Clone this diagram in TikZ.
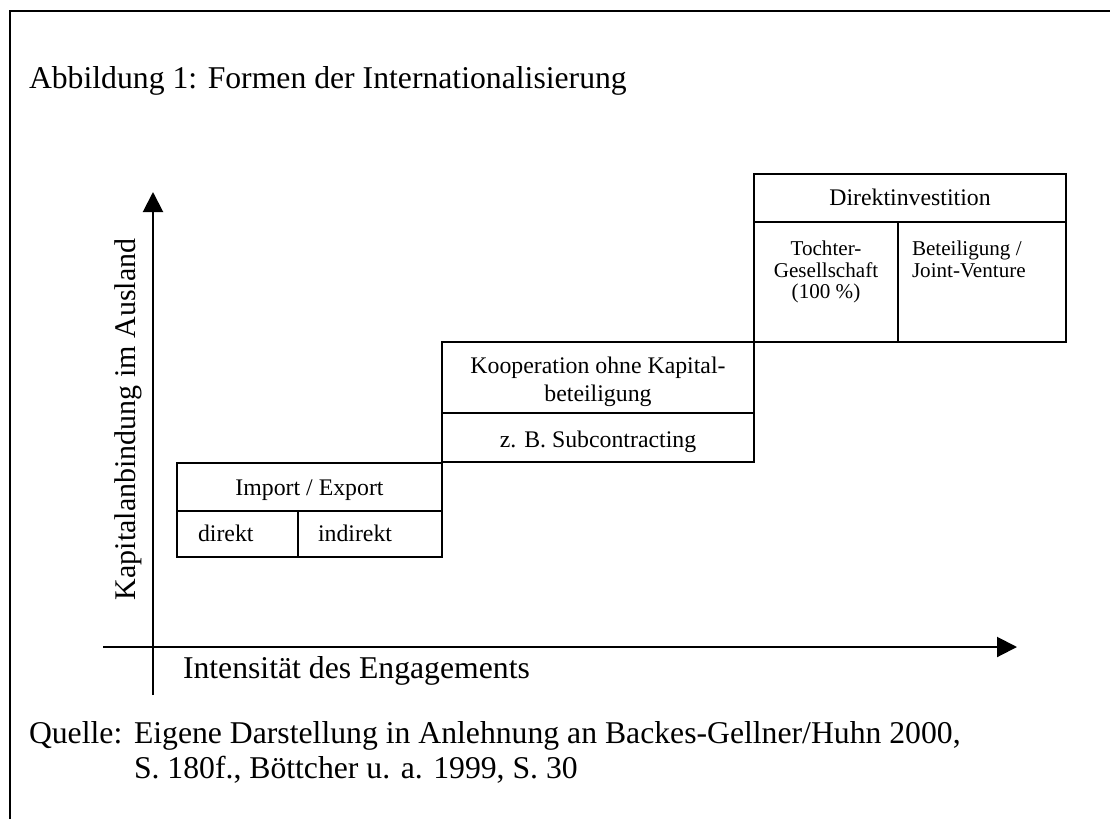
\documentclass[tikz,border=0pt]{standalone}
\usepackage{fontspec}
\setmainfont{Liberation Serif}
\usetikzlibrary{arrows.meta}
\newcommand\fsz[1]{\fontsize{#1}{#1}\selectfont}
\tikzset{
  x=1pt, y=-1pt,
  every node/.style={inner sep=0pt, outer sep=0pt},
  cellbox/.style={draw, line width=2pt, rectangle, anchor=north west},
  bigtxt/.style={font=\fsz{31.7}},
  labtxt/.style={font=\fsz{30}},
  boxtxt/.style={font=\fsz{23.8}},
  celltxt/.style={font=\fsz{21.1}},
  axisline/.style={line width=2pt, -{Triangle[length=20pt,width=20pt]}},
  frameline/.style={line width=2pt}
}
\begin{document}
\begin{tikzpicture}
\useasboundingbox (0,0) rectangle (1110,819);
% frame
\coordinate (fb) at (9.5,819);
\coordinate (fc) at (9.5,10.5);
\coordinate (fr) at (1110,10.5);
\draw[frameline] (fb) -- (fc) -- (fr);

% title
\node[bigtxt, anchor=base west] (title) at (29,88) {Abbildung 1: Formen der Internationalisierung};

% axes
\coordinate (xs) at (103,647);
\coordinate (xe) at (1017,647);
\coordinate (ys) at (153,695);
\coordinate (ye) at (153,192);
\draw[axisline] (xs) -- (xe);
\draw[axisline] (ys) -- (ye);
\node[labtxt, anchor=base west, rotate=90] (ylab) at (135,600) {Kapitalanbindung im Ausland};
\node[bigtxt, anchor=base west] (xlab) at (183,678) {Intensität des Engagements};

% Import / Export
\node[cellbox, minimum width=265, minimum height=48] (imp) at (177,463) {};
\node[cellbox, minimum width=121, minimum height=46] (dirc) at (177,511) {};
\node[cellbox, minimum width=144, minimum height=46] (indc) at (298,511) {};
\node[boxtxt, anchor=base] (impt) at (309.5,495) {Import / Export};
\node[boxtxt, anchor=base west] (dirt) at (198,541.5) {direkt};
\node[boxtxt, anchor=base west] (indt) at (318,541.5) {indirekt};

% Kooperation
\node[cellbox, minimum width=312, minimum height=71] (koop) at (442,342) {};
\node[cellbox, minimum width=312, minimum height=49] (sub) at (442,413) {};
\node[boxtxt, anchor=base] (koopa) at (598,373) {Kooperation ohne Kapital-};
\node[boxtxt, anchor=base] (koopb) at (598,401.5) {beteiligung};
\node[boxtxt, anchor=base] (subt) at (598,447) {z. B. Subcontracting};

% Direktinvestition
\node[cellbox, minimum width=312, minimum height=48] (di) at (754,174) {};
\node[cellbox, minimum width=144, minimum height=120] (toc) at (754,222) {};
\node[cellbox, minimum width=168, minimum height=120] (bet) at (898,222) {};
\node[boxtxt, anchor=base] (dit) at (910,205.5) {Direktinvestition};
\node[celltxt, anchor=base] (toca) at (826,255.5) {Tochter-};
\node[celltxt, anchor=base] (tocb) at (826,277.5) {Gesellschaft};
\node[celltxt, anchor=base] (tocc) at (826,298.5) {(100 \%)};
\node[celltxt, anchor=base west] (beta) at (912,255.5) {Beteiligung /};
\node[celltxt, anchor=base west] (betb) at (912,277.5) {Joint-Venture};

% source
\node[bigtxt, anchor=base west] (q) at (29,743) {Quelle:};
\node[bigtxt, anchor=base west] (qa) at (134,743) {Eigene Darstellung in Anlehnung an Backes-Gellner/Huhn 2000,};
\node[bigtxt, anchor=base west] (qb) at (134,778) {S. 180f., Böttcher u. a. 1999, S. 30};
\end{tikzpicture}
\end{document}
